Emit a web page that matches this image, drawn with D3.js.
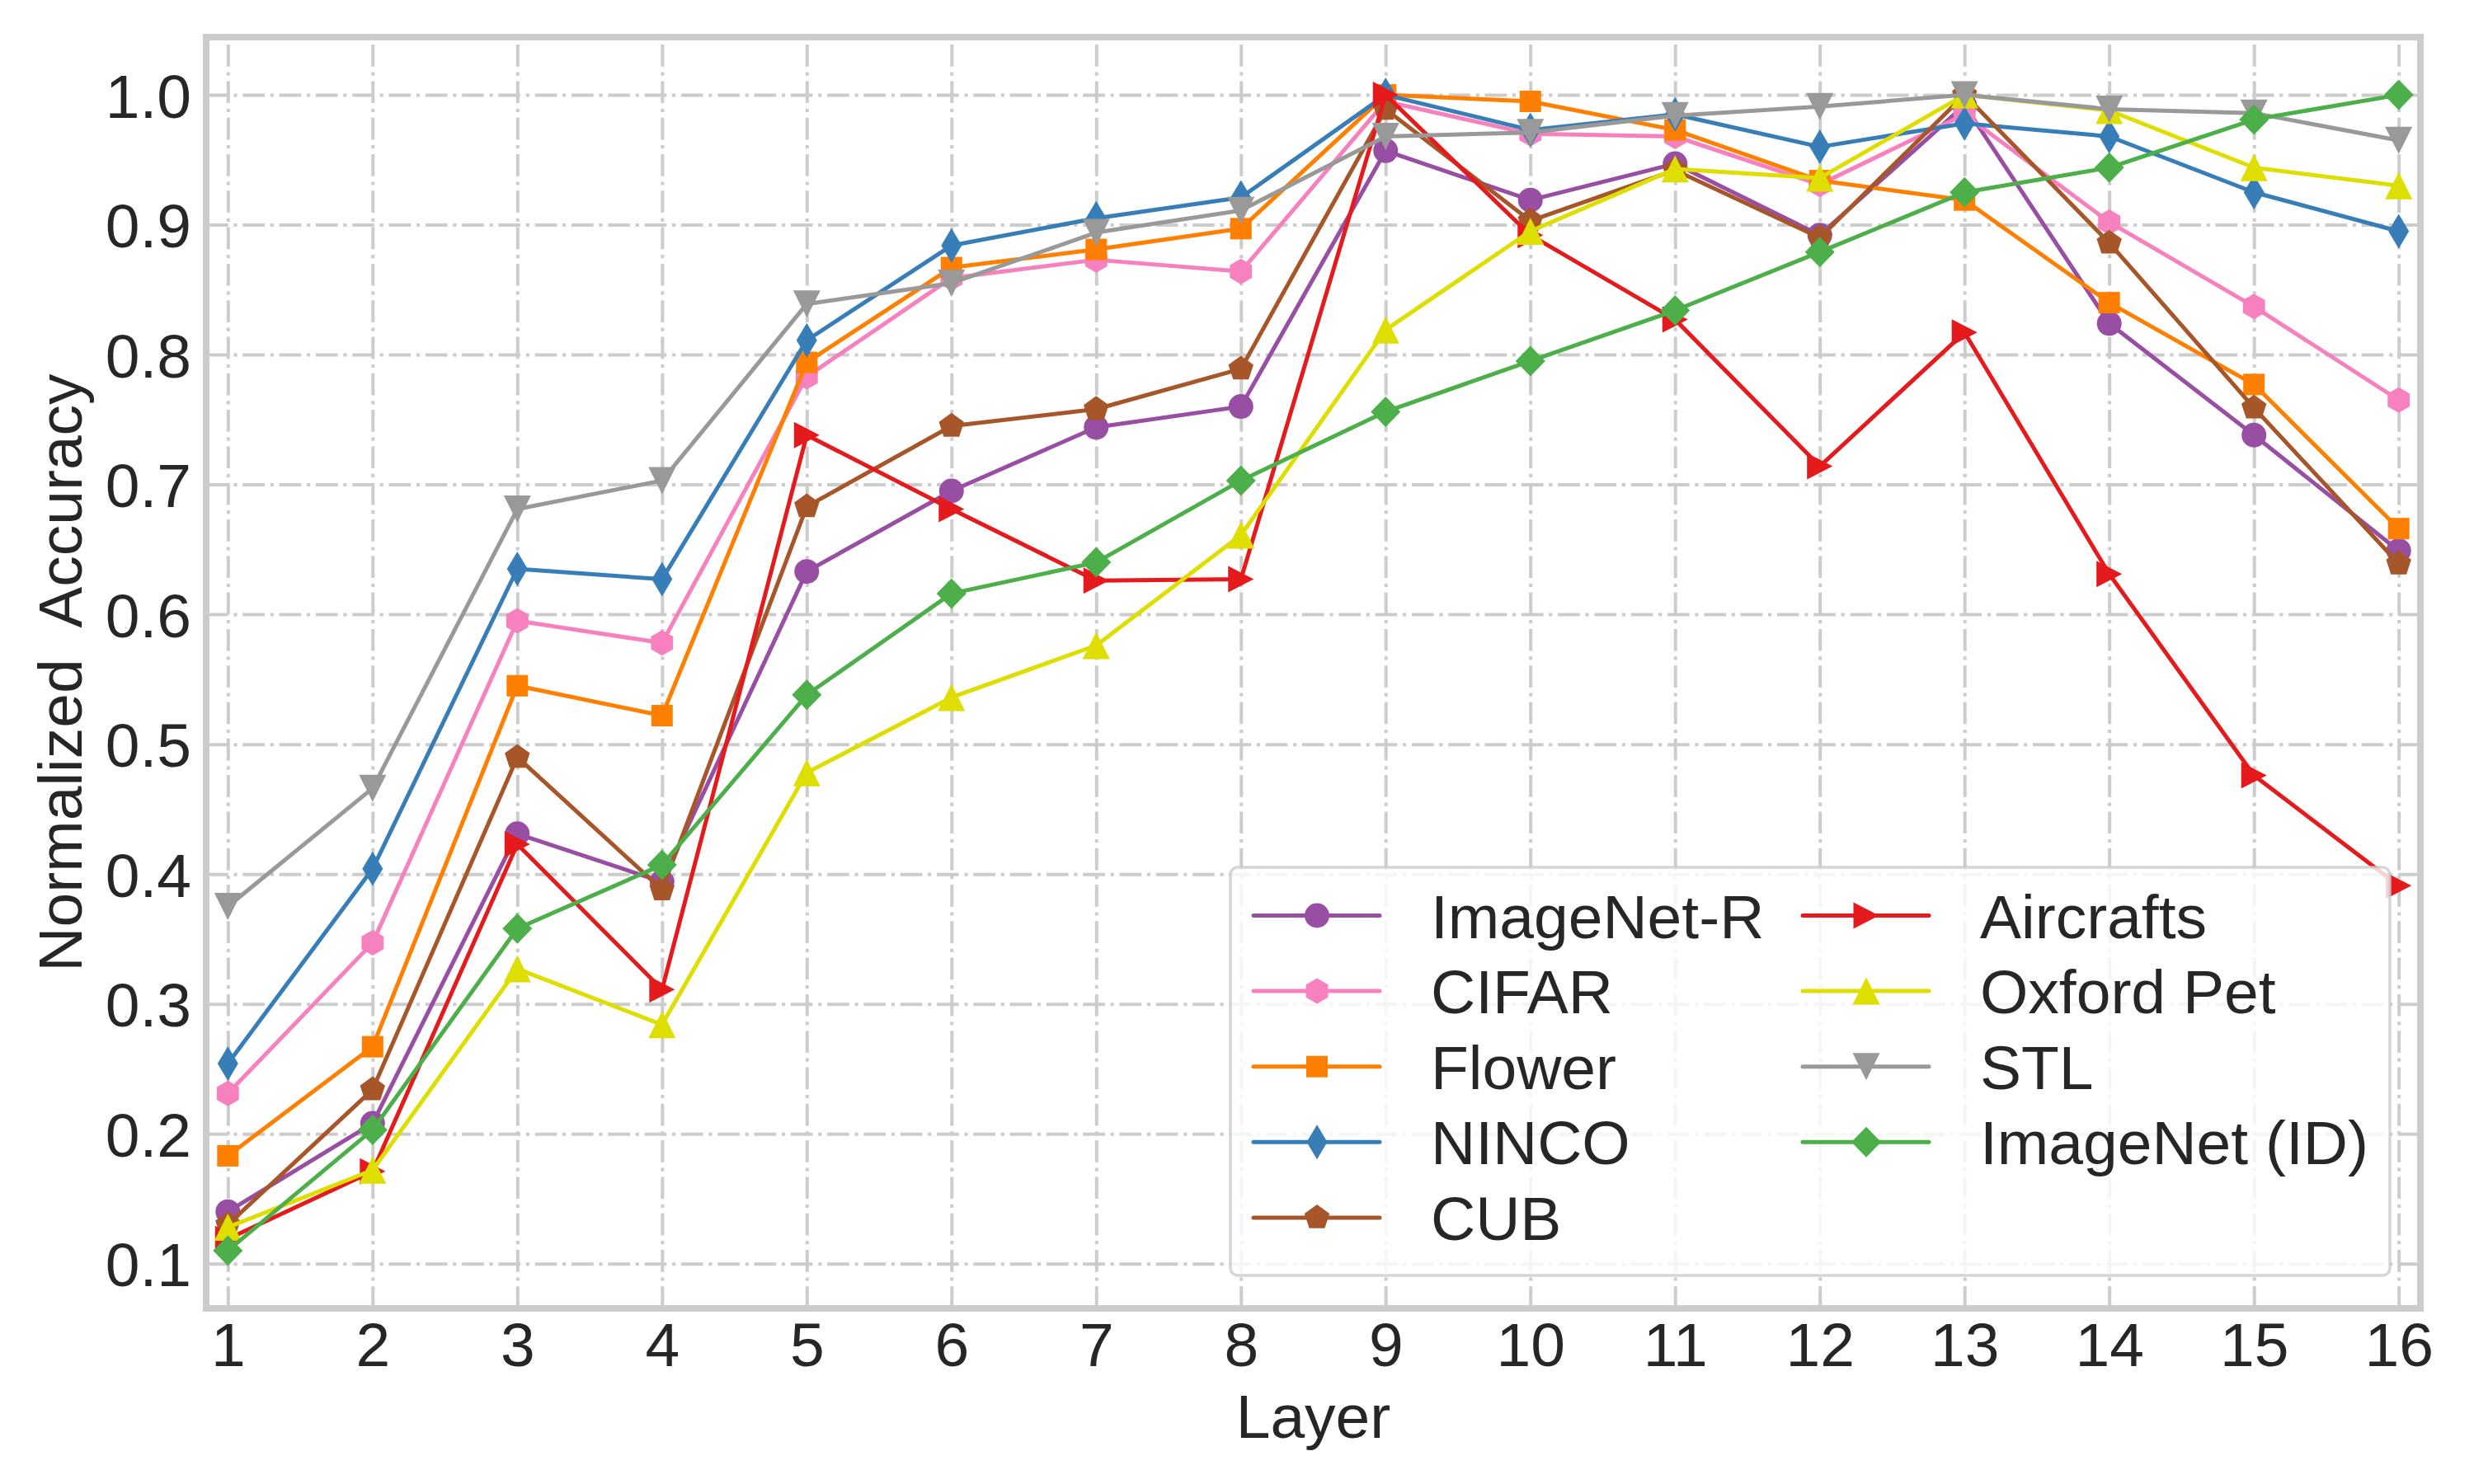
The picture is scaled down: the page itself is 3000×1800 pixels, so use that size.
<!DOCTYPE html>
<html>
<head>
<meta charset="utf-8">
<script src="https://cdn.jsdelivr.net/npm/d3@7"></script>
<style>
  html, body { margin: 0; padding: 0; background: #ffffff; }
  svg { display: block; }
  text { font-family: "Liberation Sans", Arial, "DejaVu Sans", sans-serif; fill: #262626; }
</style>
</head>
<body>
<svg id="chart" width="3000" height="1800"></svg>
<script>
// ---------------- data ----------------
const layers = [1, 2, 3, 4, 5, 6, 7, 8, 9, 10, 11, 12, 13, 14, 15, 16];
const yTicks = [0.1, 0.2, 0.3, 0.4, 0.5, 0.6, 0.7, 0.8, 0.9, 1.0];

const imagenetR  = [0.140, 0.208, 0.431, 0.394, 0.633, 0.695, 0.744, 0.760, 0.957, 0.919, 0.947, 0.892, 0.992, 0.824, 0.738, 0.649];
const cifar      = [0.231, 0.347, 0.595, 0.578, 0.783, 0.859, 0.873, 0.864, 0.995, 0.970, 0.968, 0.931, 0.985, 0.902, 0.837, 0.765];
const flower     = [0.183, 0.267, 0.545, 0.522, 0.794, 0.867, 0.881, 0.897, 1.000, 0.995, 0.973, 0.934, 0.919, 0.840, 0.777, 0.666];
const ninco      = [0.254, 0.404, 0.635, 0.627, 0.811, 0.884, 0.905, 0.921, 1.000, 0.973, 0.985, 0.960, 0.978, 0.968, 0.925, 0.895];
const cub        = [0.130, 0.234, 0.490, 0.388, 0.683, 0.745, 0.758, 0.789, 0.989, 0.903, 0.942, 0.890, 1.000, 0.886, 0.759, 0.639];
const aircrafts  = [0.119, 0.171, 0.423, 0.311, 0.738, 0.681, 0.626, 0.627, 1.000, 0.892, 0.827, 0.714, 0.817, 0.631, 0.476, 0.391];
const oxfordPet  = [0.128, 0.172, 0.327, 0.284, 0.478, 0.536, 0.576, 0.661, 0.819, 0.895, 0.943, 0.936, 1.000, 0.988, 0.944, 0.930];
const stl        = [0.375, 0.466, 0.681, 0.703, 0.839, 0.855, 0.894, 0.911, 0.968, 0.971, 0.984, 0.991, 1.000, 0.989, 0.986, 0.965];
const imagenetID = [0.110, 0.203, 0.358, 0.407, 0.538, 0.616, 0.640, 0.703, 0.756, 0.795, 0.834, 0.879, 0.925, 0.944, 0.981, 1.000];

const seriesNames   = ["ImageNet-R", "CIFAR", "Flower", "NINCO", "CUB", "Aircrafts", "Oxford Pet", "STL", "ImageNet (ID)"];
const seriesValues  = [imagenetR, cifar, flower, ninco, cub, aircrafts, oxfordPet, stl, imagenetID];
const seriesColors  = ["#984ea3", "#f781bf", "#ff7f00", "#377eb8", "#a65628", "#e41a1c", "#dede00", "#999999", "#4daf4a"];
const seriesMarkers = ["circle", "hexagon", "square", "thinDiamond", "pentagon", "triRight", "triUp", "triDown", "diamond"];

// ---------------- layout ----------------
const L = 250, R = 2935, T = 45, B = 1587;
const FONT = 75;
const svg = d3.select("#chart");
svg.append("rect").attr("width", 3000).attr("height", 1800).attr("fill", "#ffffff");

const x = d3.scaleLinear().domain([0.85, 16.15]).range([L, R]);
const y = d3.scaleLinear().domain([0.0655, 1.0445]).range([B, T]);

// marker shapes (pixel paths centred on the data point)
function poly(pts) { return "M" + pts.map(p => p[0].toFixed(2) + "," + p[1].toFixed(2)).join("L") + "Z"; }
function regular(n, r, startDeg) {
  const pts = [];
  for (let k = 0; k < n; k++) {
    const a = (startDeg + k * 360 / n) * Math.PI / 180;
    pts.push([r * Math.cos(a), r * Math.sin(a)]);
  }
  return poly(pts);
}
const markerPaths = {
  circle: "M15,0A15,15 0 1,1 -15,0A15,15 0 1,1 15,0Z",
  hexagon: regular(6, 15.5, -90),
  square: poly([[-13, -13], [13, -13], [13, 13], [-13, 13]]),
  thinDiamond: poly([[0, -21], [12.5, 0], [0, 21], [-12.5, 0]]),
  pentagon: regular(5, 16, -90),
  triRight: poly([[15.5, 0], [-15.5, -16], [-15.5, 16]]),
  triUp: poly([[0, -16.5], [16.5, 16.5], [-16.5, 16.5]]),
  triDown: poly([[0, 16.5], [16.5, -16.5], [-16.5, -16.5]]),
  diamond: poly([[0, -18.5], [18, 0], [0, 18.5], [-18, 0]])
};

// ---------------- grid ----------------
const gridDash = "26.7,6.7,4.2,6.7";
const gy = svg.append("g").attr("transform", `translate(${L},0)`)
  .call(d3.axisLeft(y).tickValues(yTicks).tickSize(-(R - L)).tickFormat(""));
gy.select(".domain").remove();
gy.selectAll("line").attr("stroke", "#cccccc").attr("stroke-width", 4).attr("stroke-dasharray", gridDash);

const gx = svg.append("g").attr("transform", `translate(0,${B})`)
  .call(d3.axisBottom(x).tickValues(layers).tickSize(-(B - T)).tickFormat(""));
gx.select(".domain").remove();
gx.selectAll("line").attr("stroke", "#cccccc").attr("stroke-width", 4).attr("stroke-dasharray", gridDash);

// ---------------- series ----------------
const line = d3.line().x((d, i) => x(layers[i])).y(d => y(d));
seriesValues.forEach((vals, s) => {
  const g = svg.append("g");
  g.append("path").attr("d", line(vals))
    .attr("fill", "none").attr("stroke", seriesColors[s]).attr("stroke-width", 5)
    .attr("stroke-linejoin", "round").attr("stroke-linecap", "round");
  g.selectAll("path.m").data(vals).enter().append("path").attr("class", "m")
    .attr("d", markerPaths[seriesMarkers[s]])
    .attr("transform", (d, i) => `translate(${x(layers[i])},${y(d)})`)
    .attr("fill", seriesColors[s]);
});

// ---------------- frame ----------------
svg.append("rect").attr("x", L).attr("y", T).attr("width", R - L).attr("height", B - T)
  .attr("fill", "none").attr("stroke", "#cccccc").attr("stroke-width", 8);

// ---------------- axes labels ----------------
const ay = svg.append("g").attr("transform", `translate(${L},0)`)
  .call(d3.axisLeft(y).tickValues(yTicks).tickSize(0).tickPadding(18).tickFormat(d3.format(".1f")));
ay.select(".domain").remove();
ay.selectAll("text").attr("font-size", FONT).attr("dy", "0.36em")
  .attr("font-family", '"Liberation Sans", Arial, sans-serif').attr("fill", "#262626");

const ax = svg.append("g").attr("transform", `translate(0,${B})`)
  .call(d3.axisBottom(x).tickValues(layers).tickSize(0).tickPadding(17).tickFormat(d3.format("d")));
ax.select(".domain").remove();
ax.selectAll("text").attr("font-size", FONT)
  .attr("font-family", '"Liberation Sans", Arial, sans-serif').attr("fill", "#262626");

svg.append("text").attr("x", (L + R) / 2).attr("y", 1744).attr("text-anchor", "middle")
  .attr("font-size", FONT).text("Layer");
svg.append("text").attr("transform", `translate(99,${(T + B) / 2}) rotate(-90)`)
  .attr("text-anchor", "middle").attr("font-size", FONT).attr("xml:space", "preserve")
  .style("white-space", "pre").text("Normalized  Accuracy");

// ---------------- legend ----------------
const lg = svg.append("g");
lg.append("rect").attr("x", 1492).attr("y", 1052).attr("width", 1406).attr("height", 495)
  .attr("rx", 9).attr("fill", "#ffffff").attr("fill-opacity", 0.8)
  .attr("stroke", "#cccccc").attr("stroke-opacity", 0.8).attr("stroke-width", 3.5);
const colX = [1520, 2186];
const rowY0 = 1110.5, rowStep = 91.6;
seriesNames.forEach((name, s) => {
  const col = s < 5 ? 0 : 1;
  const row = s < 5 ? s : s - 5;
  const lx = colX[col], ly = rowY0 + row * rowStep;
  lg.append("line").attr("x1", lx).attr("x2", lx + 153).attr("y1", ly).attr("y2", ly)
    .attr("stroke", seriesColors[s]).attr("stroke-width", 5).attr("stroke-linecap", "round");
  lg.append("path").attr("d", markerPaths[seriesMarkers[s]])
    .attr("transform", `translate(${lx + 77},${ly})`).attr("fill", seriesColors[s]);
  lg.append("text").attr("x", lx + 215).attr("y", ly + 27).attr("font-size", FONT).text(name);
});
</script>
</body>
</html>
